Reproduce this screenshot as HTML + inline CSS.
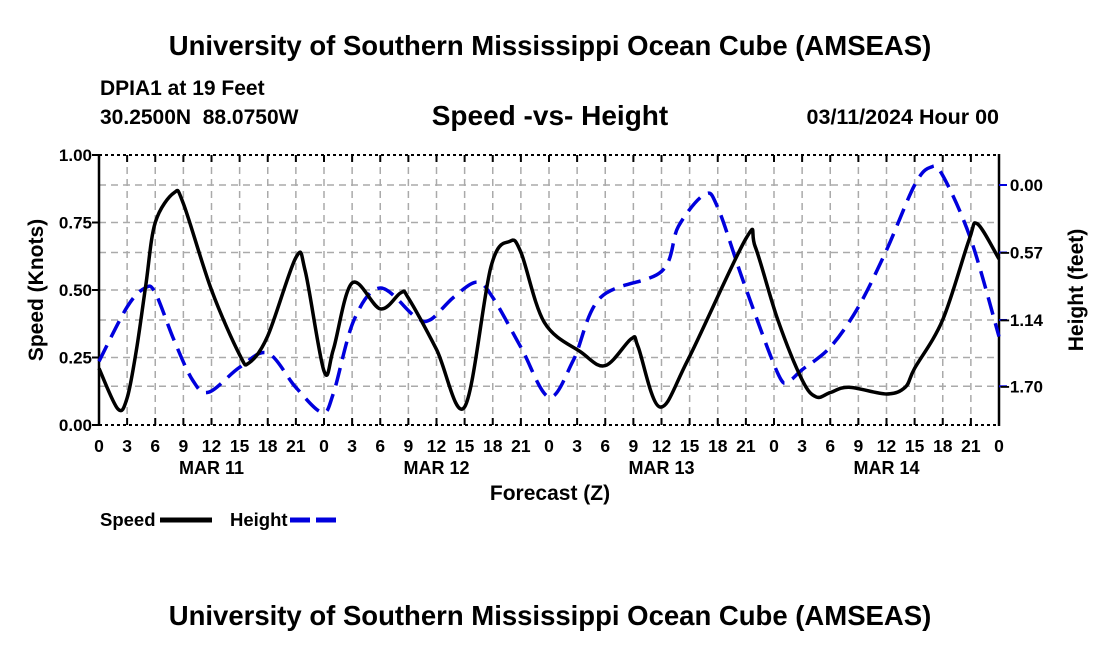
<!DOCTYPE html>
<html><head><meta charset="utf-8"><style>
body{margin:0;background:#fff;}
svg text{font-family:"Liberation Sans",Arial,sans-serif;font-weight:bold;fill:#000;}
</style></head><body>
<svg id="chart" width="1100" height="650" viewBox="0 0 1100 650" xmlns="http://www.w3.org/2000/svg">
<rect width="1100" height="650" fill="#fff"/>
<text x="550" y="55" text-anchor="middle" font-size="27.5">University of Southern Mississippi Ocean Cube (AMSEAS)</text>
<text x="100" y="95" font-size="21">DPIA1 at 19 Feet</text>
<text x="100" y="124" font-size="21" xml:space="preserve">30.2500N  88.0750W</text>
<text x="550" y="125" text-anchor="middle" font-size="28">Speed -vs- Height</text>
<text x="999" y="124" text-anchor="end" font-size="21.5">03/11/2024 Hour 00</text>
<g id="grid"></g>
<g id="axes"></g>
<g id="series"></g>
<text transform="translate(43,290) rotate(-90)" text-anchor="middle" font-size="21">Speed (Knots)</text>
<text transform="translate(1083,290) rotate(-90)" text-anchor="middle" font-size="21">Height (feet)</text>
<text x="550" y="500" text-anchor="middle" font-size="21">Forecast (Z)</text>
<g>
<text x="100" y="526" font-size="18.5">Speed</text>
<line x1="160" y1="520" x2="212" y2="520" stroke="#000" stroke-width="5"/>
<text x="230" y="526" font-size="18.5">Height</text>
<line x1="290" y1="520" x2="342" y2="520" stroke="#0000dd" stroke-width="5" stroke-dasharray="20,6"/>
</g>
<text x="550" y="625" text-anchor="middle" font-size="27.5">University of Southern Mississippi Ocean Cube (AMSEAS)</text>
</svg>
<script>
const speedHours=[0,2,3,4,5,6,8,9,12,15,16,18,21,22,24,25,27,30,32.2,33,36,39,41.8,43.8,45,47.5,51.4,54,56.8,57.5,59.8,62.8,69,70,72.4,75,76.5,78,80,84,86,87,90,92.8,93.7,96];
const speedValues=[0.21,0.06,0.10,0.28,0.52,0.75,0.86,0.82,0.50,0.26,0.23,0.33,0.62,0.57,0.20,0.28,0.526,0.43,0.49,0.47,0.28,0.067,0.585,0.68,0.64,0.38,0.27,0.22,0.32,0.29,0.067,0.24,0.69,0.66,0.39,0.167,0.104,0.12,0.14,0.115,0.14,0.21,0.39,0.685,0.745,0.615];
const heightHours=[0,3,4.9,6,8,10,11.7,15,18,21,23.8,25,27.2,30,33.7,35.3,37.8,40.3,42,45,48,50.6,53.5,60,61.8,64.6,66,68.8,72.4,73.6,75,78,81,84,87,88.7,90,93,96];
const heightValues=[-1.49,-1.03,-0.87,-0.91,-1.31,-1.65,-1.75,-1.54,-1.42,-1.71,-1.92,-1.76,-1.14,-0.87,-1.11,-1.14,-0.95,-0.82,-0.95,-1.37,-1.79,-1.48,-0.95,-0.73,-0.35,-0.08,-0.19,-0.83,-1.59,-1.65,-1.56,-1.37,-1.03,-0.55,0.00,0.15,0.08,-0.46,-1.28];
const speedTicks=[0,0.25,0.5,0.75,1.0];
const speedTickLabels=["0.00","0.25","0.50","0.75","1.00"];
const heightTicks=[0,-0.57,-1.14,-1.70];
const heightTickLabels=["0.00","\u22120.57","\u22121.14","\u22121.70"];
const hourTickLabels=["0","3","6","9","12","15","18","21"];
const dayLabels=["MAR 11","MAR 12","MAR 13","MAR 14"];

const X0=99,X1=999,Y0=425,Y1=155;
function xs(h){return X0+h*(X1-X0)/96;}
function ys(v){return Y0-v*(Y0-Y1);}
function yh(f){return 185-f*118.4;}
const NS="http://www.w3.org/2000/svg";
function mk(tag,attrs,parent){const e=document.createElementNS(NS,tag);for(const k in attrs)e.setAttribute(k,attrs[k]);parent.appendChild(e);return e;}
const grid=document.getElementById('grid'),axes=document.getElementById('axes'),series=document.getElementById('series');
for(let h=3;h<96;h+=3){const l=mk('line',{x1:xs(h),x2:xs(h),y1:Y1,y2:Y0,stroke:'#aaa','stroke-width':1.5,'stroke-dasharray':'7,5'},grid);

}
speedTicks.slice(1,4).forEach(v=>{const l=mk('line',{x1:X0,x2:X1,y1:ys(v),y2:ys(v),stroke:'#aaa','stroke-width':1.5,'stroke-dasharray':'7,5'},grid);

});
heightTicks.forEach(v=>{const l=mk('line',{x1:X0,x2:X1,y1:yh(v),y2:yh(v),stroke:'#aaa','stroke-width':1.5,'stroke-dasharray':'7,5'},grid);

});
[[X0,Y1,X1,Y1],[X0,Y0,X1,Y0]].forEach(c=>{const l=mk('line',{x1:c[0],y1:c[1],x2:c[2],y2:c[3],stroke:'#000','stroke-width':2,'stroke-dasharray':'3,3'},axes);

});
const la=mk('line',{x1:X0,y1:Y1-1,x2:X0,y2:Y0+1,stroke:'#000','stroke-width':2.5},axes);


const ra=mk('line',{x1:X1,y1:Y1-1,x2:X1,y2:Y0+1,stroke:'#000','stroke-width':2.5},axes);


speedTicks.forEach((v,i)=>{mk('line',{x1:X0-7,x2:X0,y1:ys(v),y2:ys(v),stroke:'#000','stroke-width':2},axes);
const t=mk('text',{x:X0-7,y:ys(v)+6,'text-anchor':'end','font-size':17},axes);t.textContent=speedTickLabels[i];

});
heightTicks.forEach((v,i)=>{mk('line',{x1:X1,x2:X1+8,y1:yh(v),y2:yh(v),stroke:'#0000dd','stroke-width':2},axes);
const t=mk('text',{x:1043,y:yh(v)+6,'text-anchor':'end','font-size':17},axes);t.textContent=heightTickLabels[i];

});
for(let h=0;h<=96;h+=3){mk('line',{x1:xs(h),x2:xs(h),y1:Y0,y2:Y0-7,stroke:'#000','stroke-width':2},axes);mk('line',{x1:xs(h),x2:xs(h),y1:Y1,y2:Y1+7,stroke:'#000','stroke-width':2},axes);
const t=mk('text',{x:xs(h),y:452,'text-anchor':'middle','font-size':17.5},axes);t.textContent=hourTickLabels[(h/3)%8];

}
dayLabels.forEach((d,i)=>{const t=mk('text',{x:xs(12+24*i),y:474,'text-anchor':'middle','font-size':18},axes);t.textContent=d;

});
function smooth(pts){let d='M'+pts[0][0]+','+pts[0][1];
for(let i=0;i<pts.length-1;i++){const p0=pts[i-1]||pts[i],p1=pts[i],p2=pts[i+1],p3=pts[i+2]||p2;
const c1=[p1[0]+(p2[0]-p0[0])/6,p1[1]+(p2[1]-p0[1])/6];
const c2=[p2[0]-(p3[0]-p1[0])/6,p2[1]-(p3[1]-p1[1])/6];
d+=' C'+c1[0]+','+c1[1]+' '+c2[0]+','+c2[1]+' '+p2[0]+','+p2[1];}
return d;}
const hp=mk('path',{d:smooth(heightHours.map((h,i)=>[xs(h),yh(heightValues[i])])),fill:'none',stroke:'#0000dd','stroke-width':3.5,'stroke-dasharray':'18,9'},series);


const sp=mk('path',{d:smooth(speedHours.map((h,i)=>[xs(h),ys(speedValues[i])])),fill:'none',stroke:'#000','stroke-width':3.5,'stroke-linejoin':'round'},series);


</script>
</body></html>
